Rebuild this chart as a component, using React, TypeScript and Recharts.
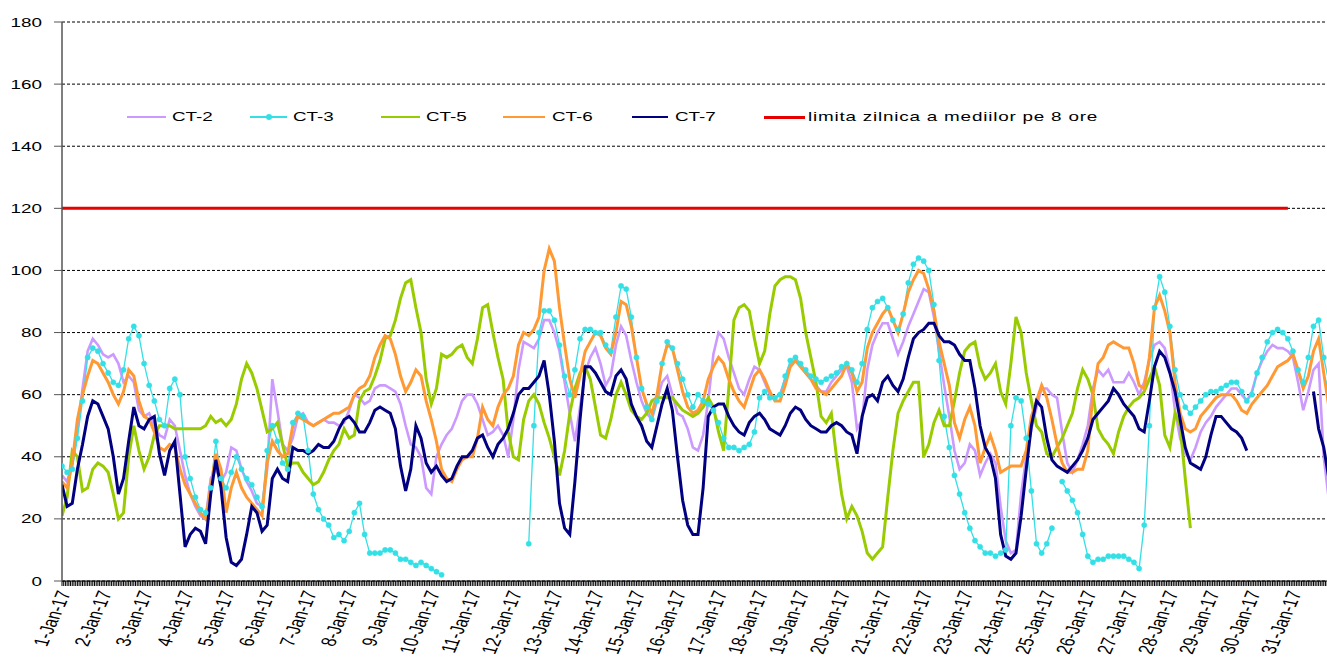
import React from 'react';
import { LineChart, Line, XAxis, YAxis, CartesianGrid, Legend } from 'recharts';

// =============================================================================
// Data (every 3 hours, 8 values per day, 1-31 Jan 2017)
// =============================================================================

const HOUR_STEP = 3;
const HOURS_IN_MONTH = 744;

const ct2 = [
  34, 32, 38, 48, 62, 74, 78, 76, 73, 72, 73, 70, 64, 66, 64, 55,
  53, 54, 50, 47, 46, 52, 50, 42, 34, 28, 24, 21, 20, 33, 36, 32,
  35, 43, 42, 36, 32, 29, 25, 24, 36, 65, 55, 44, 42, 46, 53, 54,
  51, 50, 51, 52, 51, 51, 50, 51, 55, 60, 59, 57, 58, 62, 63, 63,
  62, 61, 57, 50, 44, 43, 40, 30, 28, 40, 44, 47, 49, 53, 58, 60,
  60, 57, 52, 47, 48, 50, 47, 40, 52, 68, 77, 76, 75, 78, 84, 84,
  80, 74, 64, 54, 45, 56, 67, 72, 75, 70, 63, 66, 76, 82, 79, 71,
  64, 58, 54, 52, 58, 64, 66, 60, 54, 53, 49, 43, 42, 47, 58, 73,
  80, 78, 72, 67, 62, 60, 65, 69, 68, 64, 60, 59, 60, 65, 70, 71,
  69, 67, 65, 63, 61, 61, 64, 66, 68, 69, 64, 49, 52, 68, 76, 80,
  83, 83, 78, 73, 77, 82, 86, 90, 94, 93, 85, 74, 63, 53, 42, 36,
  38, 44, 42, 34, 38, 41, 38, 24, 13, 9, 10, 28, 40, 49, 56, 62,
  62, 60, 59, 48, 38, 35, 39, 44, 50, 62, 68, 66, 68, 64, 64, 64,
  67, 64, 60, 64, 71, 76, 77, 75, 68, 55, 46, 41, 39, 43, 48, 51,
  53, 56, 58, 60, 62, 62, 60, 58, 61, 67, 71, 74, 76, 75, 75, 74,
  72, 64, 55, 61, 68, 70, 40, 26,
];

const ct3 = [
  37, 35, 36, 46, 58, 72, 75, 74, 70, 67, 64, 63, 68, 78, 82, 79,
  70, 63, 58, 52, 50, 62, 65, 60, 40, 33, 27, 23, 22, 30, 45, 33,
  30, 35, 40, 36, 33, 31, 27, 24, 42, 50, 45, 38, 36, 51, 54, 53,
  42, 28, 23, 20, 18, 14, 15, 13, 16, 22, 25, 15, 9, 9, 9, 10,
  10, 9, 7, 7, 6, 5, 6, 5, 4, 3, 2, null, null, null, null, null,
  null, null, null, null, null, null, null, null, null, null, null, 12, 50, 80, 87, 87,
  84, 76, 66, 60, 68, 78, 81, 81, 80, 80, 76, 74, 85, 95, 94, 85,
  72, 62, 56, 52, 58, 70, 77, 75, 70, 65, 60, 56, 60, 58, 57, 55,
  51, 46, 43, 43, 42, 43, 44, 48, 59, 61, 59, 59, 60, 66, 71, 72,
  70, 68, 66, 65, 64, 65, 66, 67, 69, 70, 68, 64, 70, 81, 88, 90,
  91, 88, 84, 81, 86, 96, 102, 104, 103, 100, 89, 71, 53, 43, 34, 28,
  22, 17, 13, 11, 9, 9, 8, 9, 10, 50, 59, 58, 46, 29, 12, 9,
  12, 17, null, 32, 29, 26, 22, 15, 8, 6, 7, 7, 8, 8, 8, 8,
  7, 6, 4, 18, 50, 88, 98, 93, 82, 68, 60, 56, 54, 56, 58, 60,
  61, 61, 62, 63, 64, 64, 61, 58, 60, 67, 72, 77, 80, 81, 80, 78,
  74, 68, 64, 72, 82, 84, 72, 64,
];

const ct5 = [
  21, 27, 42, 40, 29, 30, 36, 38, 37, 35, 28, 20, 22, 40, 50, 42,
  36, 40, 47, 50, 50, 50, 49, 49, 49, 49, 49, 49, 50, 53, 51, 52,
  50, 52, 57, 65, 70, 67, 62, 55, 48, 49, 51, 44, 37, 38, 38, 35,
  33, 31, 32, 35, 39, 42, 44, 49, 46, 47, 58, 61, 62, 66, 71, 78,
  79, 84, 91, 96, 97, 88, 80, 65, 57, 62, 73, 72, 73, 75, 76, 72,
  70, 78, 88, 89, 80, 72, 65, 48, 40, 39, 52, 58, 60, 57, 51, 46,
  40, 34, 42, 54, 62, 67, 69, 65, 56, 47, 46, 52, 60, 64, 60, 55,
  53, 52, 54, 58, 59, 59, 59, 59, 57, 55, 54, 53, 54, 56, 59, 56,
  48, 42, 62, 84, 88, 89, 87, 78, 70, 74, 86, 95, 97, 98, 98, 97,
  91, 80, 72, 64, 53, 51, 54, 40, 28, 20, 24, 21, 16, 9, 7, 9,
  11, 27, 42, 54, 58, 61, 64, 64, 40, 44, 51, 55, 50, 50, 58, 67,
  74, 76, 77, 69, 65, 67, 70, 61, 57, 70, 85, 80, 67, 58, 50, 48,
  41, 40, 43, 46, 50, 54, 62, 68, 65, 60, 49, 46, 44, 41, 48, 53,
  56, 58, 59, 61, 65, 69, 63, 47, 43, 54, 50, 33, 17, null, null, null,
  null, null, null, null, null, null, null, null, null, null, null, null, null, null, null, null,
  null, null, null, null, null, null, null, null,
];

const ct6 = [
  32, 30, 38, 52, 60, 66, 71, 70, 67, 64, 60, 57, 61, 68, 66, 58,
  53, 52, 48, 43, 42, 44, 43, 36, 31, 28, 25, 22, 20, 30, 41, 36,
  22, 30, 35, 30, 27, 25, 23, 21, 38, 45, 42, 40, 41, 50, 53, 52,
  51, 50, 51, 52, 53, 54, 54, 55, 56, 60, 62, 63, 66, 72, 76, 79,
  78, 73, 66, 61, 64, 68, 66, 58, 52, 45, 36, 33, 32, 36, 39, 40,
  40, 46, 56, 52, 50, 56, 60, 62, 66, 76, 80, 79, 81, 85, 100, 107,
  103, 88, 76, 65, 59, 66, 74, 77, 80, 79, 75, 73, 80, 90, 89, 82,
  72, 62, 57, 54, 60, 70, 76, 75, 68, 61, 56, 54, 55, 58, 65, 69,
  72, 70, 65, 61, 58, 56, 61, 66, 68, 65, 61, 58, 58, 63, 69, 71,
  69, 67, 65, 62, 61, 60, 62, 64, 66, 70, 67, 61, 64, 75, 80, 83,
  86, 88, 84, 80, 86, 93, 97, 100, 99, 94, 87, 77, 70, 63, 51, 46,
  52, 56, 50, 38, 43, 47, 42, 35, 36, 37, 37, 37, 42, 53, 58, 63,
  59, 52, 44, 38, 35, 35, 36, 36, 42, 60, 70, 72, 76, 77, 76, 75,
  75, 70, 63, 62, 72, 88, 92, 87, 80, 64, 54, 49, 48, 49, 53, 55,
  57, 59, 60, 60, 60, 58, 55, 54, 57, 59, 61, 63, 66, 69, 70, 71,
  73, 68, 62, 66, 74, 78, 67, 56,
];

const ct7 = [
  31, 24, 25, 36, 44, 53, 58, 57, 53, 49, 40, 28, 33, 45, 56, 50,
  49, 52, 53, 41, 34, 42, 45, 28, 11, 15, 17, 16, 12, 28, 39, 30,
  14, 6, 5, 7, 15, 24, 22, 16, 18, 33, 36, 33, 32, 43, 42, 42,
  41, 42, 44, 43, 43, 45, 49, 52, 53, 51, 48, 48, 51, 55, 56, 55,
  54, 49, 37, 29, 36, 50, 46, 38, 35, 37, 34, 32, 33, 37, 40, 40,
  42, 46, 47, 43, 40, 44, 46, 49, 54, 60, 62, 62, 64, 66, 71, 60,
  45, 25, 17, 15, 32, 52, 69, 69, 67, 64, 61, 60, 66, 68, 65, 57,
  53, 50, 45, 43, 50, 57, 62, 55, 40, 26, 18, 15, 15, 30, 53, 56,
  57, 57, 53, 50, 48, 47, 51, 53, 54, 52, 49, 48, 47, 50, 54, 56,
  55, 52, 50, 49, 48, 48, 50, 51, 50, 48, 47, 41, 53, 59, 60, 58,
  64, 66, 63, 61, 65, 72, 78, 80, 81, 83, 83, 79, 77, 77, 76, 73,
  71, 71, 62, 50, 43, 40, 33, 15, 8, 7, 9, 21, 36, 50, 58, 56,
  46, 39, 37, 36, 35, 37, 39, 42, 46, 52, 54, 56, 58, 62, 60, 57,
  55, 53, 49, 48, 58, 69, 74, 72, 67, 61, 52, 43, 38, 37, 36, 40,
  47, 53, 53, 51, 49, 48, 46, 42, null, null, null, null, null, null, null, null,
  null, null, null, null, 61, 49, 43, 33,
];

// daily limit for the 8-hour means, drawn up to the last hour of 30 Jan
const LIMIT_VALUE = 120;
const LIMIT_LAST_HOUR = 717;

const yTicks = [0, 20, 40, 60, 80, 100, 120, 140, 160, 180];
const hourTicks = Array.from({ length: HOURS_IN_MONTH }, (_, h) => h);
const dayLabel = (day: number) => `${day}-Jan-17`;

const rows = ct2.map((_, i) => ({
  hour: i * HOUR_STEP,
  ct2: ct2[i],
  ct3: ct3[i],
  ct5: ct5[i],
  ct6: ct6[i],
  ct7: ct7[i],
  limit: i * HOUR_STEP <= LIMIT_LAST_HOUR ? LIMIT_VALUE : null,
}));

// =============================================================================
// Styling
// =============================================================================

const FONT = "Arial, 'Liberation Sans', sans-serif";
const STRETCH = 1.45; // the picture is stretched sideways, text included

const COLORS = {
  ct2: '#CC99FF',
  ct3: '#33E0E6',
  ct5: '#99CC00',
  ct6: '#FF9933',
  ct7: '#000080',
  limit: '#E60000',
};

const LEGEND_ITEMS = [
  { label: 'CT-2', color: COLORS.ct2, x: 127, len: 39, textX: 172, thick: 2, dot: false, spacing: 0 },
  { label: 'CT-3', color: COLORS.ct3, x: 250, len: 37, textX: 293, thick: 1.5, dot: true, spacing: 0 },
  { label: 'CT-5', color: COLORS.ct5, x: 381, len: 39, textX: 426, thick: 2, dot: false, spacing: 0 },
  { label: 'CT-6', color: COLORS.ct6, x: 503, len: 42, textX: 552, thick: 2, dot: false, spacing: 0 },
  { label: 'CT-7', color: COLORS.ct7, x: 632, len: 36, textX: 675, thick: 2, dot: false, spacing: 0 },
  { label: 'limita zilnica a mediilor pe 8 ore', color: COLORS.limit, x: 764, len: 41, textX: 808, thick: 3, dot: false, spacing: 0.55 },
];
const LEGEND_Y = 117;

// =============================================================================
// Pieces
// =============================================================================

function YTick({ x, y, payload }: any) {
  return (
    <text
      transform={`translate(${x},${y}) scale(${STRETCH},1)`}
      textAnchor="end"
      dy="0.35em"
      fontSize={13}
      fontFamily={FONT}
      fill="#000"
    >
      {payload.value}
    </text>
  );
}

function DayTick({ x, y, payload }: any) {
  const h = payload.value as number;
  if (h % 24 !== 0) return null;
  return (
    <text
      transform={`translate(${x + 2},${y + 3}) scale(${STRETCH},1) rotate(-73)`}
      textAnchor="end"
      dy="0.35em"
      fontSize={14.5}
      fontFamily={FONT}
      fill="#000"
    >
      {dayLabel(h / 24 + 1)}
    </text>
  );
}

function LegendBox() {
  return (
    <div style={{ position: 'relative', width: 1, height: 1 }}>
      {LEGEND_ITEMS.map((it) => (
        <React.Fragment key={it.label}>
          <div
            style={{
              position: 'absolute',
              left: it.x,
              top: LEGEND_Y - it.thick / 2,
              width: it.len,
              height: it.thick,
              background: it.color,
            }}
          />
          {it.dot && (
            <div
              style={{
                position: 'absolute',
                left: it.x + it.len / 2 - 3,
                top: LEGEND_Y - 3,
                width: 6,
                height: 6,
                borderRadius: 3,
                background: it.color,
              }}
            />
          )}
          <span
            style={{
              position: 'absolute',
              left: it.textX,
              top: LEGEND_Y - 8,
              fontFamily: FONT,
              fontSize: 13,
              lineHeight: '16px',
              letterSpacing: it.spacing,
              whiteSpace: 'nowrap',
              color: '#000',
              transform: `scaleX(${STRETCH})`,
              transformOrigin: 'left center',
            }}
          >
            {it.label}
          </span>
        </React.Fragment>
      ))}
    </div>
  );
}

// =============================================================================
// Chart
// =============================================================================

export default function App() {
  return (
    <div
      style={{
        position: 'absolute',
        left: 0,
        top: 0,
        width: 1327,
        height: 668,
        overflow: 'hidden',
        background: '#fff',
      }}
    >
      <LineChart width={1334} height={668} data={rows} margin={{ top: 22, right: 0, bottom: 0, left: 0 }}>
        <CartesianGrid vertical={false} stroke="#000" strokeDasharray="3 2" strokeWidth={1} />
        <XAxis
          type="number"
          dataKey="hour"
          domain={[0, HOURS_IN_MONTH]}
          ticks={hourTicks}
          interval={0}
          height={87}
          tickSize={5}
          tickLine={{ stroke: '#000', strokeWidth: 1 }}
          axisLine={{ stroke: '#000', strokeWidth: 1 }}
          tick={<DayTick />}
          allowDataOverflow
        />
        <YAxis
          type="number"
          domain={[0, 180]}
          ticks={yTicks}
          interval={0}
          width={62}
          tickSize={8}
          tickMargin={12}
          tickLine={{ stroke: '#555' }}
          axisLine={{ stroke: '#555', strokeWidth: 1.5 }}
          tick={<YTick />}
        />
        <Legend
          layout="horizontal"
          verticalAlign="middle"
          align="center"
          wrapperStyle={{ top: 0, left: 0, width: 1, height: 1 }}
          content={() => <LegendBox />}
        />
        <Line type="linear" dataKey="ct2" name="CT-2" stroke={COLORS.ct2} strokeWidth={2.6} dot={false} isAnimationActive={false} />
        <Line
          type="linear"
          dataKey="ct3"
          name="CT-3"
          stroke={COLORS.ct3}
          strokeWidth={1.3}
          dot={{ r: 2.6, fill: COLORS.ct3, stroke: COLORS.ct3, strokeWidth: 0.5 }}
          isAnimationActive={false}
        />
        <Line type="linear" dataKey="ct5" name="CT-5" stroke={COLORS.ct5} strokeWidth={3} dot={false} isAnimationActive={false} />
        <Line type="linear" dataKey="ct6" name="CT-6" stroke={COLORS.ct6} strokeWidth={3} dot={false} isAnimationActive={false} />
        <Line type="linear" dataKey="ct7" name="CT-7" stroke={COLORS.ct7} strokeWidth={3} dot={false} isAnimationActive={false} />
        <Line
          type="linear"
          dataKey="limit"
          name="limita zilnica a mediilor pe 8 ore"
          stroke={COLORS.limit}
          strokeWidth={3}
          dot={false}
          isAnimationActive={false}
        />
      </LineChart>
    </div>
  );
}
